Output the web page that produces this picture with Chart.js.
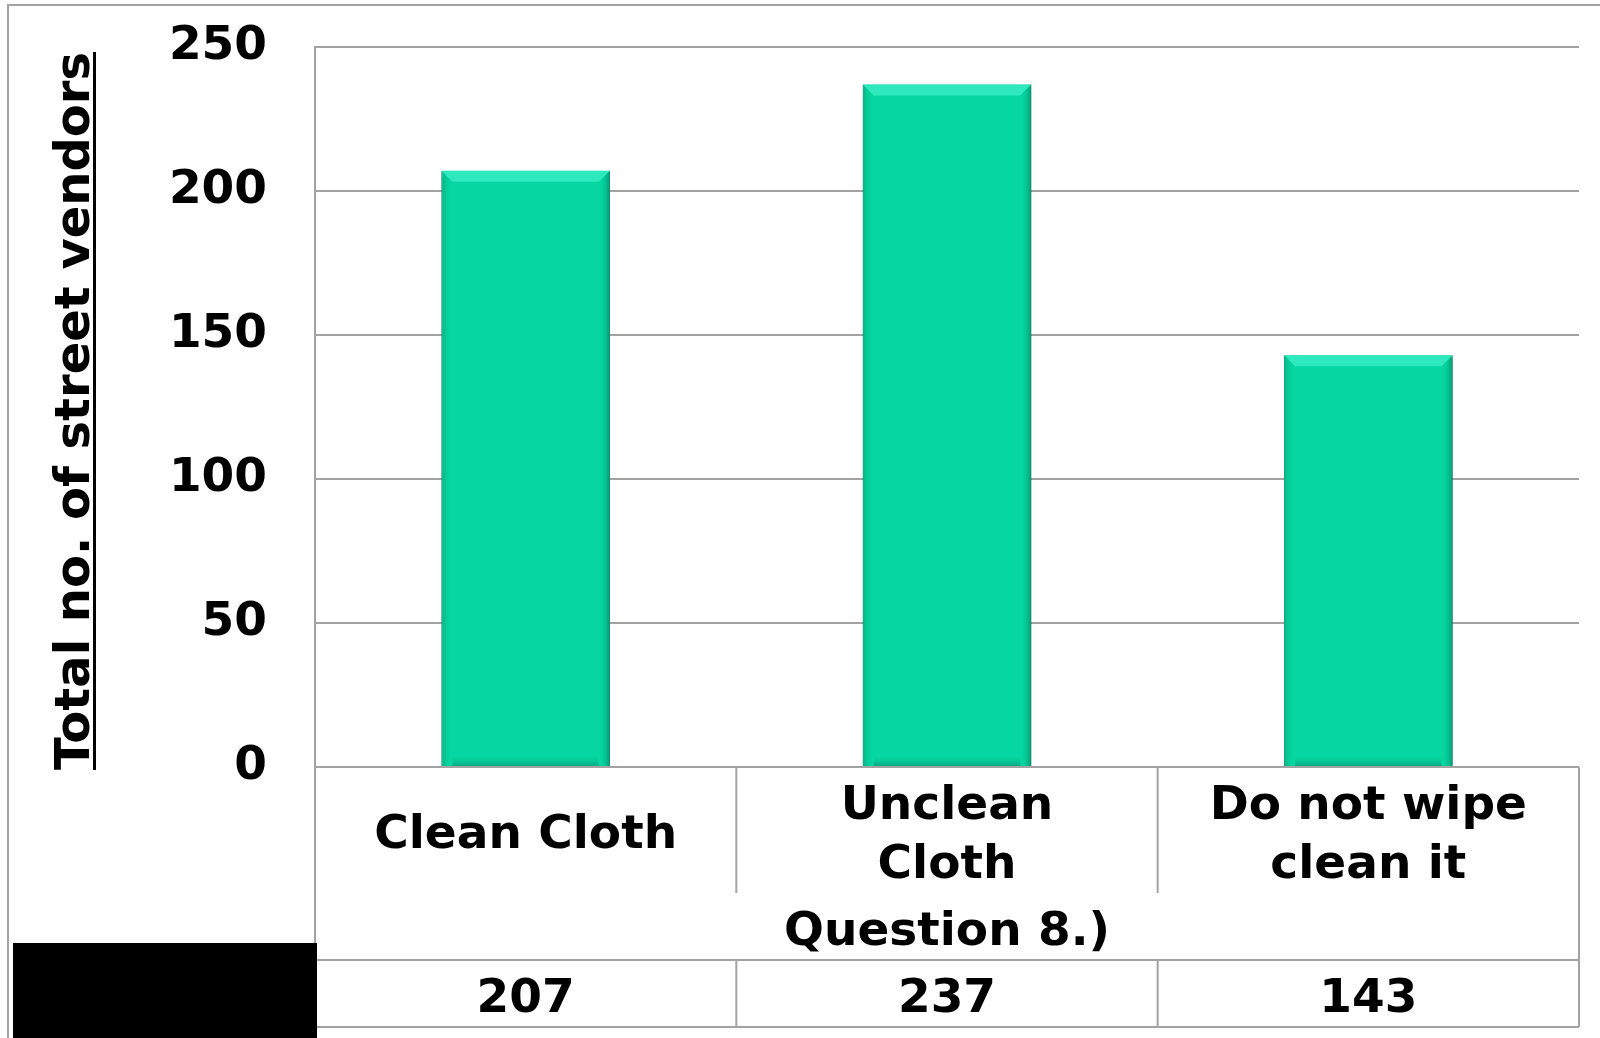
<!DOCTYPE html>
<html>
<head>
<meta charset="utf-8">
<script src="https://cdn.jsdelivr.net/npm/chart.js@4"></script>
<style>
  body { margin: 0; background: #fff; }
  canvas { display: block; }
</style>
</head>
<body>
<canvas id="mainChart" width="1600" height="1038"></canvas>
<script>
// Chart values
var categories = [['Clean Cloth'], ['Unclean', 'Cloth'], ['Do not wipe', 'clean it']];
var vendorCounts = [207, 237, 143];
var groupLabel = 'Question 8.)';
var yTitle = 'Total no. of street vendors';

var FONT = 'bold 47px "DejaVu Sans", Verdana, sans-serif';
var GRID = '#a3a3a3';

// Bevel + shadow look of the bars
var barBevel = {
    id: 'barBevel',
    beforeDatasetDraw: function(chart) {
        var ctx = chart.ctx;
        ctx.save();
        ctx.shadowColor = 'rgba(0,0,0,0.35)';
        ctx.shadowBlur = 6;
        ctx.shadowOffsetX = 2;
        ctx.shadowOffsetY = 2;
    },
    afterDatasetDraw: function(chart) {
        var ctx = chart.ctx;
        ctx.restore();
        var bars = chart.getDatasetMeta(0).data;
        bars.forEach(function(bar) {
            var l = bar.x - bar.width / 2, r = bar.x + bar.width / 2;
            var t = bar.y, b = bar.base, d = 11;
            ctx.save();
            // top highlight
            ctx.fillStyle = '#2ee9bd';
            ctx.beginPath();
            ctx.moveTo(l, t); ctx.lineTo(r, t); ctx.lineTo(r - d, t + d); ctx.lineTo(l + d, t + d);
            ctx.closePath(); ctx.fill();
            // right shade
            var g = ctx.createLinearGradient(r - d, 0, r, 0);
            g.addColorStop(0, 'rgba(6,214,161,0)');
            g.addColorStop(1, 'rgba(3,140,105,0.8)');
            ctx.fillStyle = g;
            ctx.beginPath();
            ctx.moveTo(r, t); ctx.lineTo(r, b); ctx.lineTo(r - d, b); ctx.lineTo(r - d, t + d);
            ctx.closePath(); ctx.fill();
            // left shade
            var g2 = ctx.createLinearGradient(l, 0, l + d, 0);
            g2.addColorStop(0, 'rgba(3,150,110,0.55)');
            g2.addColorStop(1, 'rgba(6,214,161,0)');
            ctx.fillStyle = g2;
            ctx.beginPath();
            ctx.moveTo(l, t); ctx.lineTo(l + d, t + d); ctx.lineTo(l + d, b); ctx.lineTo(l, b);
            ctx.closePath(); ctx.fill();
            // bottom shade
            var g3 = ctx.createLinearGradient(0, b - d, 0, b);
            g3.addColorStop(0, 'rgba(6,214,161,0)');
            g3.addColorStop(1, 'rgba(3,140,105,0.6)');
            ctx.fillStyle = g3;
            ctx.fillRect(l + d, b - d, bar.width - 2 * d, d);
            ctx.restore();
        });
    }
};

// Data table under the chart, frame and axis title
var tableAndTitle = {
    id: 'tableAndTitle',
    afterDraw: function(chart) {
        var ctx = chart.ctx;
        var ca = chart.chartArea;
        var xs = chart.scales.x;
        var colW = (ca.right - ca.left) / categories.length;
        var row1 = ca.bottom + 126, row2 = row1 + 67, row3 = row2 + 67;

        ctx.save();
        ctx.strokeStyle = GRID;
        ctx.lineWidth = 2;
        ctx.beginPath();
        // outer frame (left & top)
        ctx.moveTo(8, 1040); ctx.lineTo(8, 5); ctx.lineTo(1602, 5);
        // category row verticals
        for (var i = 0; i <= categories.length; i++) {
            var x = ca.left + i * colW;
            ctx.moveTo(x, ca.bottom); ctx.lineTo(x, row1);
            ctx.moveTo(x, row2); ctx.lineTo(x, row3);
        }
        ctx.moveTo(ca.left, row1); ctx.lineTo(ca.left, row2);
        ctx.moveTo(ca.right, row1); ctx.lineTo(ca.right, row2);
        ctx.moveTo(ca.left, row2); ctx.lineTo(ca.right, row2);
        ctx.moveTo(ca.left, row3); ctx.lineTo(ca.right, row3);
        ctx.stroke();

        ctx.fillStyle = '#000';
        ctx.font = FONT;
        ctx.textAlign = 'center';
        ctx.textBaseline = 'alphabetic';
        categories.forEach(function(lines, i) {
            var cx = xs.getPixelForValue(i);
            var mid = (ca.bottom + row1) / 2;
            var lh = 59;
            var start = mid - (lines.length - 1) * lh / 2;
            lines.forEach(function(line, j) {
                ctx.fillText(line, cx, start + j * lh + 18);
            });
            ctx.fillText(String(vendorCounts[i]), cx, (row2 + row3) / 2 + 18);
        });
        ctx.fillText(groupLabel, (ca.left + ca.right) / 2, (row1 + row2) / 2 + 18);

        // redacted box
        ctx.fillStyle = '#000';
        ctx.fillRect(13, 943, 304, 95);

        // y axis title, underlined
        ctx.font = 'bold 48px "DejaVu Sans", Verdana, sans-serif';
        ctx.translate(89, 411);
        ctx.rotate(-Math.PI / 2);
        ctx.fillText(yTitle, 0, 0);
        var w = ctx.measureText(yTitle).width;
        ctx.fillRect(-w / 2, 4, w, 3);
        ctx.restore();
    }
};

var ctx = document.getElementById('mainChart').getContext('2d');
var mainChart = new Chart(ctx, {
    type: 'bar',
    data: {
        labels: categories,
        datasets: [{
            data: vendorCounts,
            backgroundColor: '#06d6a1',
            borderColor: '#05b88b',
            borderWidth: 1,
            categoryPercentage: 0.4,
            barPercentage: 1.0
        }]
    },
    options: {
        responsive: false,
        animation: false,
        layout: { padding: { top: 47, right: 21, bottom: 271, left: 0 } },
        plugins: {
            legend: { display: false },
            tooltip: { enabled: false }
        },
        scales: {
            x: {
                display: false
            },
            y: {
                min: 0,
                max: 250,
                ticks: {
                    stepSize: 50,
                    padding: 48,
                    color: '#000',
                    font: { family: '"DejaVu Sans", Verdana, sans-serif', size: 47, weight: 'bold' }
                },
                grid: { color: GRID, lineWidth: 2, drawTicks: false },
                border: { display: true, color: GRID, width: 2 },
                afterFit: function(scale) {
                    scale.width = 315;
                    scale.paddingTop = 0;
                    scale.paddingBottom = 0;
                }
            }
        }
    },
    plugins: [barBevel, tableAndTitle]
});
</script>
</body>
</html>
